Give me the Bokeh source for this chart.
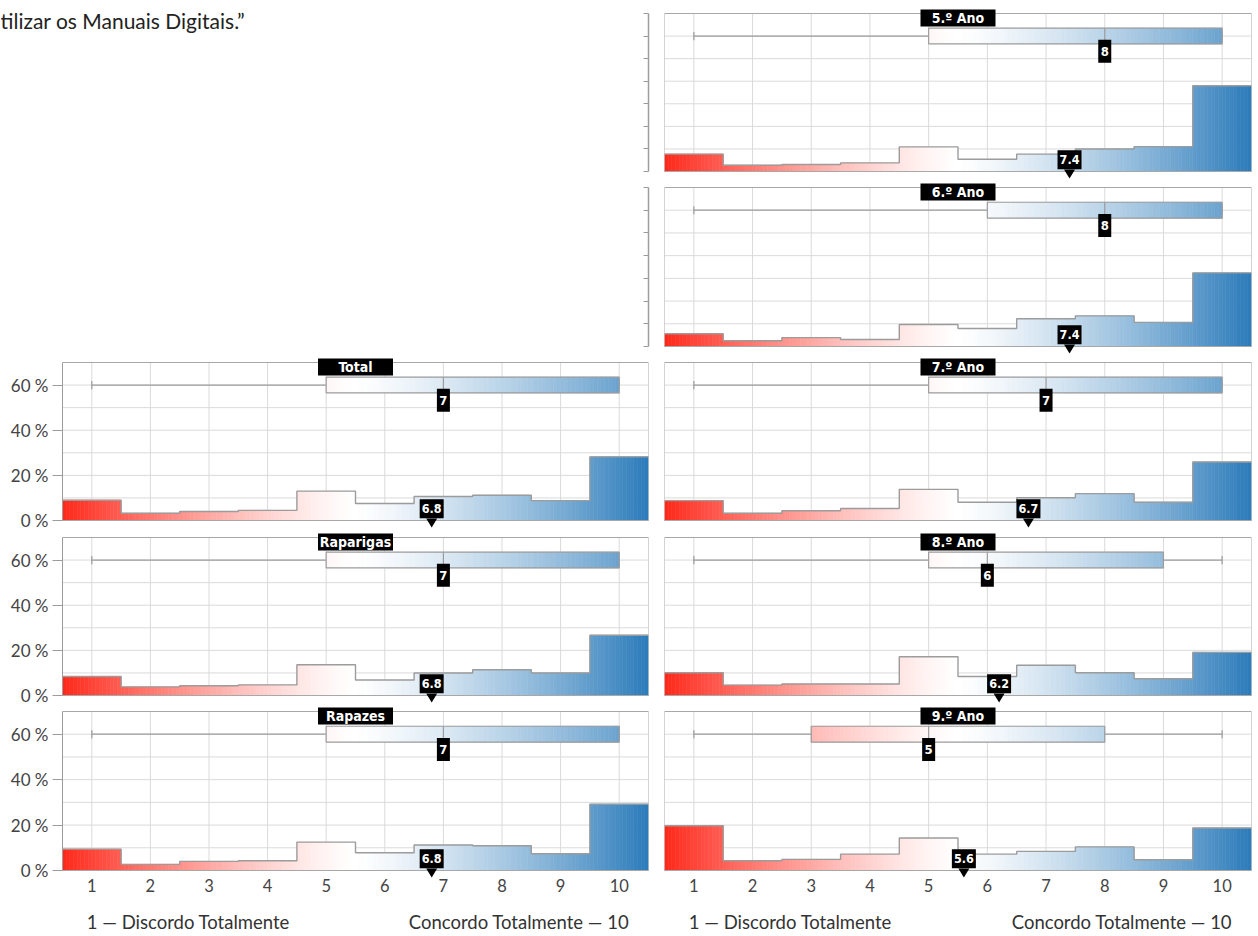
import numpy as np
from bokeh.plotting import figure
from bokeh.layouts import column, row
from bokeh.models import Range1d, FixedTicker, LinearAxis, Grid, Label, ColumnDataSource
from bokeh.core.properties import value
from bokeh.embed import file_html
from bokeh.resources import INLINE

# ---------------- data ----------------
scores = [1, 2, 3, 4, 5, 6, 7, 8, 9, 10]
x_tick_labels = ["1", "2", "3", "4", "5", "6", "7", "8", "9", "10"]
y_ticks = [0, 20, 40, 60]
y_tick_labels = ["0 %", "20 %", "40 %", "60 %"]
y_grid = [0, 10, 20, 30, 40, 50, 60, 70]

panel_names = ["Total", "Raparigas", "Rapazes",
               "5.º Ano", "6.º Ano", "7.º Ano", "8.º Ano", "9.º Ano"]

total     = [9.0, 3.2, 4.0, 4.5, 13.0, 7.5, 10.6, 11.2, 8.8, 28.2]
raparigas = [8.4, 3.8, 4.3, 4.7, 13.6, 6.9, 10.0, 11.4, 10.0, 26.7]
rapazes   = [9.4, 2.7, 4.0, 4.3, 12.5, 7.8, 11.2, 10.9, 7.4, 29.2]
ano5      = [7.7, 2.8, 3.1, 3.8, 10.9, 5.4, 7.7, 10.0, 11.0, 38.0]
ano6      = [5.6, 2.5, 3.9, 3.1, 9.7, 7.9, 12.2, 13.5, 10.6, 32.4]
ano7      = [8.8, 3.2, 4.3, 5.3, 13.8, 8.1, 10.1, 11.9, 8.1, 25.9]
ano8      = [10.1, 4.6, 5.1, 5.1, 17.2, 8.4, 13.4, 10.1, 7.4, 19.1]
ano9      = [19.7, 4.3, 4.9, 7.2, 14.3, 7.2, 8.4, 10.4, 4.7, 18.7]
panel_values = [total, raparigas, rapazes, ano5, ano6, ano7, ano8, ano9]

mins    = [1, 1, 1, 1, 1, 1, 1, 1]
q1s     = [5, 5, 5, 5, 6, 5, 5, 3]
medians = [7, 7, 7, 8, 8, 7, 6, 5]
q3s     = [10, 10, 10, 10, 10, 10, 9, 8]
maxs    = [10, 10, 10, 10, 10, 10, 10, 10]
means   = [6.8, 6.8, 6.8, 7.4, 7.4, 6.7, 6.2, 5.6]

title_text = "tilizar os Manuais Digitais.”"
axis_left_text = "1 — Discordo Totalmente"
axis_right_text = "Concordo Totalmente — 10"

# ---------------- style ----------------
RED = (255, 40, 26)
BLUE = (43, 123, 186)
GRID_C = "#dadada"
LINE_C = "#9c9c9c"
FRAME_C = "#a8a8a8"
TEXT_C = "#444444"
BOLD_FONT = "Liberation Sans Narrow, DejaVu Sans Condensed, Roboto"
REG_FONT = "Lato"
BOX_Y, BOX_H, CAP_H = 60, 3.5, 1.8
MED_Y, MEAN_Y = 53.3, 5.2
BOX_ALPHA = 0.8
SLICES = 16
X0, X1, Y0, Y1 = 0.5, 10.5, 0, 70
EXT_T, EXT_B = 5, 8   # px of frame beyond the 0..70 box


def color_at(x, alpha=1.0):
    if x < 5.5:
        t, c = (5.5 - x) / 5.0, RED
    else:
        t, c = (x - 5.5) / 5.0, BLUE
    f = (max(0.0, min(1.0, t)) ** 1.3) * alpha
    r, g, b = [int(round(255 + (ci - 255) * f)) for ci in c]
    return "#%02x%02x%02x" % (r, g, b)


def make_fig(w, h, bl, br, bt, bb, xr, yr):
    p = figure(width=w, height=h, x_range=xr, y_range=yr,
               output_backend="svg", toolbar_location=None,
               x_axis_location=None, y_axis_location=None, title=None,
               min_border_left=bl, min_border_right=br,
               min_border_top=bt, min_border_bottom=bb)
    p.center = [r for r in p.center if not isinstance(r, Grid)]
    p.background_fill_color = "white"
    p.border_fill_color = "white"
    p.outline_line_color = None
    return p


def blank_fig(w, h, br, bt, bb, with_title=False):
    fh = h - bt - bb - EXT_T - EXT_B
    uy = (Y1 - Y0) / fh
    p = make_fig(w, h, 0, br, bt, bb, Range1d(0, w - br),
                 Range1d(Y0 - EXT_B * uy, Y1 + EXT_T * uy))
    ax = LinearAxis(ticker=FixedTicker(ticks=y_grid), bounds=(Y0, Y1),
                    major_label_overrides={t: "" for t in y_grid},
                    major_tick_in=5, major_tick_out=0, minor_tick_line_color=None,
                    axis_line_color=LINE_C, major_tick_line_color=LINE_C,
                    axis_line_width=1.5, major_tick_line_width=1.2)
    p.add_layout(ax, "right")
    if with_title:
        p.add_layout(Label(x=0, y=Y1 - 7 * uy, text=title_text,
                           text_font=REG_FONT, text_font_size="21px",
                           text_color="#222222", text_baseline="middle",
                           text_align="left"))
    return p


def panel(idx, w, h, bl, br, bt, bb, show_y, show_x):
    fw = w - bl - br
    fh = h - bt - bb - EXT_T - EXT_B
    ux, uy = (X1 - X0) / fw, (Y1 - Y0) / fh
    p = make_fig(w, h, bl, br, bt, bb, Range1d(X0, X1),
                 Range1d(Y0 - EXT_B * uy, Y1 + EXT_T * uy))

    # grid
    p.segment(x0=scores, y0=[Y0] * len(scores), x1=scores, y1=[Y1] * len(scores),
              line_color=GRID_C, line_width=1)
    p.segment(x0=[X0] * len(y_grid), y0=y_grid, x1=[X1] * len(y_grid), y1=y_grid,
              line_color=GRID_C, line_width=1)

    vals = panel_values[idx]
    # histogram gradient slices
    L, R, T, C = [], [], [], []
    for s, v in zip(scores, vals):
        for k in range(SLICES):
            l = s - 0.5 + k / SLICES
            r = l + 1.0 / SLICES
            L.append(l); R.append(r); T.append(v); C.append(color_at((l + r) / 2))
    src = ColumnDataSource(dict(left=L, right=R, top=T, color=C))
    p.quad(left="left", right="right", bottom=0, top="top", source=src,
           fill_color="color", line_color="color", line_width=0.6)
    edges = np.arange(len(scores) + 1) + 0.5
    sx = np.repeat(edges, 2)[1:-1]
    sy = np.repeat(np.array(vals), 2)
    p.line(sx, sy, line_color=LINE_C, line_width=1.4)

    # frame
    p.quad(left=[X0], right=[X1], bottom=[Y0], top=[Y1], fill_color=None,
           line_color=FRAME_C, line_width=1)

    # box plot
    mn, q1, md, q3, mx, mean = mins[idx], q1s[idx], medians[idx], q3s[idx], maxs[idx], means[idx]
    p.segment(x0=[mn, q3], y0=[BOX_Y, BOX_Y], x1=[q1, mx], y1=[BOX_Y, BOX_Y],
              line_color=LINE_C, line_width=1.2)
    p.segment(x0=[mn, mx], y0=[BOX_Y - CAP_H] * 2, x1=[mn, mx], y1=[BOX_Y + CAP_H] * 2,
              line_color=LINE_C, line_width=1.2)
    nb = int(round((q3 - q1) * SLICES))
    if nb > 0:
        bl_ = [q1 + k * (q3 - q1) / nb for k in range(nb)]
        br_ = [q1 + (k + 1) * (q3 - q1) / nb for k in range(nb)]
        bc = [color_at((a + b) / 2, BOX_ALPHA) for a, b in zip(bl_, br_)]
        bsrc = ColumnDataSource(dict(left=bl_, right=br_, color=bc))
        p.quad(left="left", right="right", bottom=BOX_Y - BOX_H, top=BOX_Y + BOX_H,
               source=bsrc, fill_color="color", line_color="color", line_width=0.6)
    p.quad(left=[q1], right=[q3], bottom=[BOX_Y - BOX_H], top=[BOX_Y + BOX_H],
           fill_color=None, line_color=LINE_C, line_width=1.2)
    p.segment(x0=[md], y0=[BOX_Y - BOX_H], x1=[md], y1=[BOX_Y + BOX_H],
              line_color=LINE_C, line_width=1.2)

    # median label
    p.rect(x=[md], y=[MED_Y], width=13, height=23, width_units="screen",
           height_units="screen", fill_color="black", line_color=None)
    p.text(x=[md], y=[MED_Y], text=[str(md)], text_color="white",
           text_font=value(BOLD_FONT), text_font_style="bold", text_font_size="13px",
           text_align="center", text_baseline="middle")
    # mean label with pointer
    p.rect(x=[mean], y=[MEAN_Y], width=24, height=19, width_units="screen",
           height_units="screen", fill_color="black", line_color=None)
    p.text(x=[mean], y=[MEAN_Y], text=["%.1f" % mean], text_color="white",
           text_font=value(BOLD_FONT), text_font_style="bold", text_font_size="12.5px",
           text_align="center", text_baseline="middle")
    tw = 5.5 * ux
    p.patch(x=[mean - tw, mean + tw, mean], y=[Y0 + 2 * uy, Y0 + 2 * uy, Y0 - 7 * uy],
            fill_color="black", line_color=None)

    # panel title
    p.rect(x=[(X0 + X1) / 2], y=[Y1 - 4.5 * uy], width=75, height=17,
           width_units="screen", height_units="screen",
           fill_color="black", line_color=None)
    p.text(x=[(X0 + X1) / 2], y=[Y1 - 4.5 * uy], text=[panel_names[idx]],
           text_color="white", text_font=value(BOLD_FONT), text_font_style="bold",
           text_font_size="14px", text_align="center", text_baseline="middle")

    if show_y:
        ax = LinearAxis(ticker=FixedTicker(ticks=y_ticks),
                        major_label_overrides=dict(zip(y_ticks, y_tick_labels)),
                        major_tick_out=10, major_tick_in=0, minor_tick_line_color=None,
                        major_label_standoff=4, axis_line_color=LINE_C,
                        major_tick_line_color=LINE_C, bounds=(Y0, Y1),
                        major_label_text_font=REG_FONT,
                        major_label_text_font_size="17px",
                        major_label_text_color=TEXT_C)
        p.add_layout(ax, "left")
    if show_x:
        ax = LinearAxis(ticker=FixedTicker(ticks=scores),
                        major_label_overrides=dict(zip(scores, x_tick_labels)),
                        major_tick_out=0, major_tick_in=0, minor_tick_line_color=None,
                        major_label_standoff=0, axis_line_color=None,
                        major_tick_line_color=None,
                        major_label_text_font=REG_FONT,
                        major_label_text_font_size="16.5px",
                        major_label_text_color=TEXT_C)
        p.add_layout(ax, "below")
    return p


def text_fig(w, h, bl, br):
    p = make_fig(w, h, bl, br, 0, 0, Range1d(X0, X1), Range1d(0, h))
    p.add_layout(Label(x=scores[0], y=h - 15, x_offset=-5, text=axis_left_text,
                       text_font=REG_FONT, text_font_size="18.5px", text_color="#333333",
                       text_align="left", text_baseline="middle"))
    p.add_layout(Label(x=scores[-1], y=h - 15, x_offset=10, text=axis_right_text,
                       text_font=REG_FONT, text_font_size="18.5px", text_color="#333333",
                       text_align="right", text_baseline="middle"))
    return p


LW, RW = 656, 602
LBL, LBR = 62, 8
RBL, RBR = 8, 7

L1 = blank_fig(LW, 182, LBR, 8, 3, with_title=True)
L2 = blank_fig(LW, 175, LBR, 0, 3)
L3 = panel(0, LW, 175, LBL, LBR, 0, 4, True, False)
L4 = panel(1, LW, 174, LBL, LBR, 0, 3, True, False)
L5 = panel(2, LW, 200, LBL, LBR, 0, 28, True, True)

R1 = panel(3, RW, 182, RBL, RBR, 8, 3, False, False)
R2 = panel(4, RW, 175, RBL, RBR, 0, 3, False, False)
R3 = panel(5, RW, 175, RBL, RBR, 0, 4, False, False)
R4 = panel(6, RW, 174, RBL, RBR, 0, 3, False, False)
R5 = panel(7, RW, 200, RBL, RBR, 0, 28, False, True)

TL = text_fig(LW, 30, LBL, LBR)
TR = text_fig(RW, 30, RBL, RBR)

layout = column(row(L1, R1), row(L2, R2), row(L3, R3), row(L4, R4), row(L5, R5),
                row(TL, TR))

open("out.html", "w").write(file_html(layout, INLINE))
